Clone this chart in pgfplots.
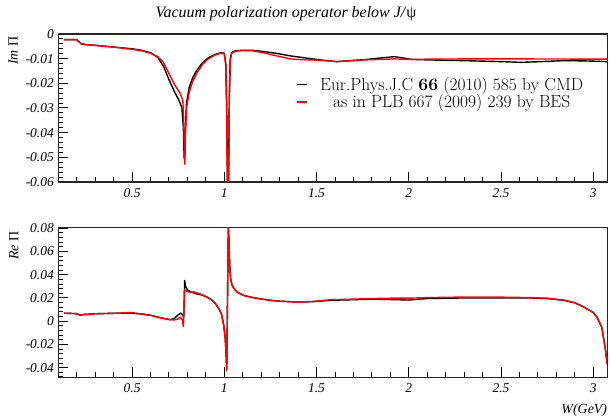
\documentclass[border=0pt]{standalone}
\usepackage{pgfplots}
\pgfplotsset{compat=1.18}
\usepackage{pgfplotstable}
\usepackage{fontspec}
\newfontfamily\tnr{Liberation Serif}

\pgfplotstableread{
W v
0.13 -0.0023
0.20 -0.0023
0.21 -0.0030
0.225 -0.0040
0.25 -0.0043
0.30 -0.0046
0.40 -0.0053
0.50 -0.0060
0.55 -0.0066
0.60 -0.0076
0.64 -0.0095
0.67 -0.0130
0.70 -0.0185
0.73 -0.0235
0.755 -0.0270
0.77 -0.0300
0.778 -0.0380
0.782 -0.0500
0.785 -0.0510
0.788 -0.0400
0.795 -0.0280
0.81 -0.0215
0.83 -0.0175
0.85 -0.0148
0.88 -0.0118
0.91 -0.0098
0.95 -0.0083
0.98 -0.0076
1.00 -0.0078
1.008 -0.0120
1.013 -0.0300
1.017 -0.0600
1.020 -0.0750
1.023 -0.0600
1.027 -0.0250
1.032 -0.0100
1.04 -0.0075
1.06 -0.0068
1.10 -0.0066
1.15 -0.0066
1.20 -0.0070
1.28 -0.0078
1.36 -0.0089
1.47 -0.0100
1.55 -0.0108
1.61 -0.0112
1.70 -0.0107
1.76 -0.0104
1.85 -0.0097
1.92 -0.0092
1.96 -0.0096
2.01 -0.0103
2.10 -0.0105
2.30 -0.0108
2.50 -0.0112
2.61 -0.0115
2.75 -0.0111
2.84 -0.0108
2.95 -0.0109
3.076 -0.0112
}\imcmd

\pgfplotstableread{
W v
0.13 -0.0023
0.20 -0.0023
0.21 -0.0030
0.225 -0.0040
0.25 -0.0043
0.30 -0.0046
0.40 -0.0053
0.50 -0.0062
0.55 -0.0068
0.60 -0.0078
0.64 -0.0092
0.67 -0.0115
0.70 -0.0160
0.73 -0.0205
0.76 -0.0240
0.775 -0.0270
0.780 -0.0350
0.783 -0.0450
0.786 -0.0528
0.789 -0.0420
0.795 -0.0300
0.81 -0.0235
0.83 -0.0190
0.85 -0.0160
0.88 -0.0125
0.91 -0.0102
0.95 -0.0085
0.98 -0.0078
1.00 -0.0080
1.008 -0.0130
1.013 -0.0320
1.017 -0.0650
1.020 -0.0800
1.023 -0.0650
1.027 -0.0280
1.032 -0.0110
1.04 -0.0078
1.06 -0.0070
1.10 -0.0067
1.15 -0.0068
1.20 -0.0074
1.28 -0.0088
1.36 -0.0101
1.42 -0.0104
1.47 -0.0105
1.55 -0.0108
1.61 -0.0112
1.70 -0.0108
1.76 -0.0105
1.85 -0.0103
1.92 -0.0101
2.01 -0.0103
2.10 -0.0102
2.30 -0.0101
2.60 -0.0101
3.076 -0.0102
}\imbes

\pgfplotstableread{
W v
0.13 0.0069
0.20 0.0065
0.218 0.0052
0.24 0.0058
0.30 0.0064
0.40 0.0068
0.50 0.0068
0.55 0.0063
0.607 0.0049
0.65 0.0032
0.707 0.0012
0.73 0.0025
0.75 0.0055
0.765 0.0070
0.775 0.0050
0.780 0.0030
0.783 0.0200
0.785 0.0350
0.79 0.0300
0.80 0.0270
0.82 0.0250
0.85 0.0235
0.88 0.0225
0.906 0.0208
0.93 0.0185
0.95 0.0155
0.97 0.0110
0.985 0.0060
0.997 -0.0037
1.005 -0.0150
1.010 -0.0300
1.013 -0.0420
1.016 0.0000
1.020 0.0600
1.022 0.0820
1.025 0.0700
1.030 0.0450
1.034 0.0367
1.042 0.0310
1.051 0.0285
1.07 0.0250
1.087 0.0237
1.105 0.0222
1.15 0.0205
1.196 0.0192
1.25 0.0180
1.30 0.0172
1.396 0.0165
1.48 0.0168
1.577 0.0180
1.70 0.0185
1.80 0.0190
1.94 0.0185
2.00 0.0182
2.10 0.0195
2.30 0.0200
2.50 0.0200
2.66 0.0200
2.75 0.0195
2.84 0.0180
2.90 0.0158
2.95 0.0121
3.00 0.0075
3.02 0.0035
3.046 -0.0052
3.064 -0.0225
3.070 -0.0300
3.076 -0.0370
}\recmd

\pgfplotstableread{
W v
0.13 0.0069
0.20 0.0065
0.218 0.0052
0.24 0.0058
0.30 0.0064
0.40 0.0068
0.50 0.0075
0.52 0.0068
0.55 0.0063
0.607 0.0049
0.65 0.0030
0.707 0.0014
0.73 0.0010
0.75 0.0020
0.761 0.0035
0.772 0.0012
0.778 -0.0046
0.781 0.0100
0.784 0.0270
0.79 0.0265
0.80 0.0255
0.816 0.0250
0.835 0.0252
0.85 0.0245
0.88 0.0228
0.906 0.0208
0.93 0.0185
0.95 0.0155
0.97 0.0110
0.985 0.0060
0.997 -0.0037
1.005 -0.0150
1.010 -0.0300
1.013 -0.0425
1.016 0.0000
1.020 0.0600
1.022 0.0820
1.025 0.0700
1.030 0.0450
1.034 0.0367
1.042 0.0310
1.051 0.0285
1.07 0.0250
1.087 0.0237
1.105 0.0222
1.15 0.0205
1.196 0.0192
1.25 0.0180
1.30 0.0172
1.396 0.0165
1.48 0.0170
1.577 0.0185
1.70 0.0190
1.80 0.0195
1.94 0.0199
2.00 0.0198
2.10 0.0203
2.30 0.0208
2.50 0.0207
2.66 0.0203
2.75 0.0198
2.84 0.0182
2.90 0.0160
2.95 0.0121
3.00 0.0075
3.02 0.0035
3.046 -0.0052
3.064 -0.0225
3.070 -0.0300
3.076 -0.0370
}\rebes

\pgfplotsset{
  myax/.style={
    scale only axis,
    width=549bp,
    xmin=0.1, xmax=3.076,
    xtick={0.5,1,1.5,2,2.5,3},
    xticklabels={0.5,1,1.5,2,2.5,3},
    minor xtick={0.2,0.3,0.4,0.6,0.7,0.8,0.9,1.1,1.2,1.3,1.4,1.6,1.7,1.8,1.9,2.1,2.2,2.3,2.4,2.6,2.7,2.8,2.9},
    tick align=inside,
    xtick pos=bottom, ytick pos=left,
    major tick length=10bp, minor tick length=5bp,
    every tick/.style={line width=1bp, black},
    axis line style={line width=1.5bp, black!85},
    ticklabel style={font=\tnr\itshape\fontsize{13.5}{14}\selectfont},
    /pgf/number format/assume math mode=true,
    scaled y ticks=false,
    yticklabel style={/pgf/number format/fixed, /pgf/number format/precision=2, xshift=-1bp},
    xticklabel style={yshift=-3bp},
    every axis plot/.append style={line width=1.4bp, line join=round},
  }
}

\begin{document}
\begin{tikzpicture}
\useasboundingbox (0,0) rectangle (610bp,417bp);

\begin{axis}[myax,
  at={(58.3bp,235bp)}, anchor=south west,
  height=148bp,
  ymin=-0.06, ymax=0,
  ytick={-0.06,-0.05,-0.04,-0.03,-0.02,-0.01,0},
  yticklabels={-0.06,-0.05,-0.04,-0.03,-0.02,-0.01,0},
  minor ytick={-0.058,-0.056,-0.054,-0.052,-0.048,-0.046,-0.044,-0.042,-0.038,-0.036,-0.034,-0.032,-0.028,-0.026,-0.024,-0.022,-0.018,-0.016,-0.014,-0.012,-0.008,-0.006,-0.004,-0.002},
  legend style={at={(0.434,0.599)}, anchor=west, draw=none, fill=none,
    inner sep=0pt, row sep=-1.5bp,
    cells={anchor=center}},
  legend image code/.code={\draw[#1,line width=1.3bp] (0bp,0bp) -- (10bp,0bp); \path (20bp,0bp);},
]
\addplot[black] table[x=W,y=v] {\imcmd};
\addlegendentry{\fontsize{17.5}{18}\selectfont Eur.Phys.J.C \textbf{66} (2010) 585 by CMD}
\addplot[red] table[x=W,y=v] {\imbes};
\addlegendentry{\fontsize{17.5}{18}\selectfont as in PLB 667 (2009) 239 by BES}
\end{axis}

\begin{axis}[myax,
  at={(58.3bp,39.7bp)}, anchor=south west,
  height=149.6bp,
  ymin=-0.0483, ymax=0.0805,
  ytick={-0.04,-0.02,0,0.02,0.04,0.06,0.08},
  yticklabels={-0.04,-0.02,0,0.02,0.04,0.06,0.08},
  minor ytick={-0.048,-0.044,-0.036,-0.032,-0.028,-0.024,-0.016,-0.012,-0.008,-0.004,0.004,0.008,0.012,0.016,0.024,0.028,0.032,0.036,0.044,0.048,0.052,0.056,0.064,0.068,0.072,0.076},
]
\addplot[black] table[x=W,y=v] {\recmd};
\addplot[red] table[x=W,y=v] {\rebes};
\end{axis}

\node[font=\tnr\itshape\fontsize{16}{18}\selectfont] at (286bp,403bp) {Vacuum polarization operator below J/\textup{ψ}};
\node[font=\tnr\fontsize{14}{16}\selectfont, rotate=90, anchor=east] at (13bp,384bp) {\textit{Im} Π};
\node[font=\tnr\fontsize{14}{16}\selectfont, rotate=90, anchor=east] at (14bp,189bp) {\textit{Re} Π};
\node[font=\tnr\itshape\fontsize{14}{16}\selectfont, anchor=east, inner sep=0pt] at (607.3bp,7bp) {W(GeV)};
\end{tikzpicture}
\end{document}
